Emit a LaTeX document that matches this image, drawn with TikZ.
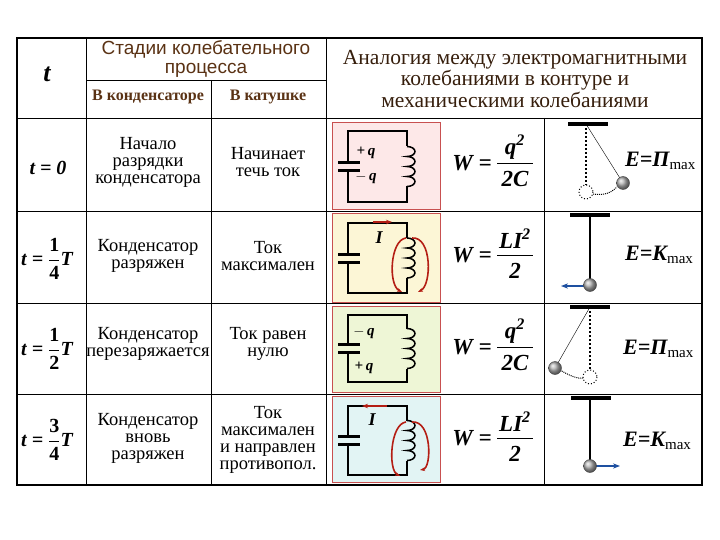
\documentclass[tikz,border=0pt]{standalone}
\usepackage{fontspec}
\setmainfont{Liberation Serif}
\newfontfamily\hsans{Liberation Sans}
\usetikzlibrary{arrows.meta}
\definecolor{brn}{RGB}{90,50,20}
\definecolor{rbox}{RGB}{200,80,80}
\definecolor{pnk}{RGB}{253,232,232}
\definecolor{yel}{RGB}{252,246,214}
\definecolor{grn}{RGB}{238,246,214}
\definecolor{cya}{RGB}{226,244,244}
\definecolor{flux}{RGB}{180,30,20}
\definecolor{arr}{RGB}{30,80,160}
\tikzset{
 grid/.style={line width=0.8pt},
 frame/.style={line width=1.6pt},
 txt/.style={align=center,font=\fontsize{18.5}{17}\selectfont,inner sep=0pt},
 sub/.style={font=\fontsize{16}{16}\selectfont\bfseries,text=brn,inner sep=0pt},
 tval/.style={font=\fontsize{20}{20}\selectfont\bfseries\itshape,inner sep=0pt},
 wire/.style={line width=1.5pt},
 plate/.style={line width=3pt},
 lbl/.style={font=\fontsize{15}{15}\selectfont\bfseries\itshape,inner sep=0pt},
 fm/.style={font=\fontsize{23}{23}\selectfont\bfseries\itshape,inner sep=0pt},
 en/.style={font=\fontsize{22}{22}\selectfont\bfseries\itshape,inner sep=0pt,anchor=west},
 ball/.style={ball color=gray!60,draw=gray!50!black,thin},
 bar/.style={line width=4pt},
 fluxarr/.style={flux,line width=1.6pt,-{Stealth[length=5pt]}},
 vel/.style={arr,line width=2.5pt,-{Stealth[length=7pt]}}
}
\newcommand{\mycoil}[2]{%
 \pgfmathsetmacro{\hh}{(#2-#1)/4}
 \draw[wire] (407,#1) foreach \k in {0,1,2,3}{ arc[start angle=90,end angle=-90,x radius=8pt,y radius=\hh/2*1pt] };
}
\newcommand{\fr}[2]{$\displaystyle\frac{\mathbf{#1}}{\mathbf{#2}}$}
\newcommand{\mx}{\textsubscript{\normalfont\mdseries\upshape\fontsize{15}{15}\selectfont max}}
\begin{document}
\begin{tikzpicture}[x=1pt,y=-1pt]
\useasboundingbox (0,0) rectangle (720,540);
\foreach \ya/\yb/\c in {122/209/pnk,213/302/yel,306/392/grn,396/482/cya}
 \draw[rbox,fill=\c,line width=0.8pt] (332,\ya) rectangle (440,\yb);
\draw[frame] (17,38) rectangle (702,485);
\draw[grid] (86,38) -- (86,485);
\draw[grid] (326,38) -- (326,485);
\draw[grid] (86,80) -- (326,80);
\draw[grid] (211,80) -- (211,485);
\draw[grid] (17,118) -- (702,118);
\draw[grid] (544,118) -- (544,485);
\foreach \y in {211,303,394} \draw[grid] (17,\y) -- (702,\y);
% headers
\node[font=\fontsize{26}{26}\selectfont\bfseries\itshape,inner sep=0pt] (ht) at (47,74) {t};
\node[txt,font=\hsans\fontsize{19}{19}\selectfont,text=brn] (hs) at (206,59) {Стадии колебательного\\процесса};
\node[sub] (hc) at (148,97) {В конденсаторе};
\node[sub] (hk) at (268,97) {В катушке};
\node[txt,font=\fontsize{21.5}{20}\selectfont,text=brn!60!black] (ha) at (515,79) {Аналогия между электромагнитными\\колебаниями в контуре и\\механическими колебаниями};
% time column
\node[tval] (t0) at (48,168) {t = 0};
\node[tval] (t1) at (47,259) {t = \fr{1}{4}T};
\node[tval] (t2) at (47,349) {t = \fr{1}{2}T};
\node[tval] (t3) at (47,440) {t = \fr{3}{4}T};
% texts
\node[txt] (c1) at (148,162) {Начало\\разрядки\\конденсатора};
\node[txt] (k1) at (268,162) {Начинает\\течь ток};
\node[txt] (c2) at (148,256) {Конденсатор\\разряжен};
\node[txt] (k2) at (268,256) {Ток\\максимален};
\node[txt] (c3) at (148,344) {Конденсатор\\перезаряжается};
\node[txt] (k3) at (268,344) {Ток равен\\нулю};
\node[txt] (c4) at (148,438) {Конденсатор\\вновь\\разряжен};
\node[txt] (k4) at (268,440) {Ток\\максимален\\и направлен\\противопол.};
% circuits
\foreach \t/\b in {131/202,223/293,315/382,406/475}{
 \pgfmathsetmacro{\m}{(\t+\b)/2}
 \pgfmathsetmacro{\ct}{\m-20}\pgfmathsetmacro{\cb}{\m+20}
 \draw[wire] (348,\m-4) -- (348,\t) -- (407,\t) -- (407,\ct);
 \draw[wire] (348,\m+4) -- (348,\b) -- (407,\b) -- (407,\cb);
 \draw[plate] (338,\m-4) -- (360,\m-4);
 \draw[plate] (338,\m+4) -- (360,\m+4);
 \mycoil{\ct}{\cb}
}
\node[lbl] (q1a) at (366,153) {+\,q};
\node[lbl] (q1b) at (366,178) {$-$\,q};
\node[lbl] (q3a) at (364,333) {$-$\,q};
\node[lbl] (q3b) at (364,368) {+\,q};
\node[lbl,font=\fontsize{18}{18}\selectfont\bfseries\itshape] (i2) at (379,238) {I};
\node[lbl,font=\fontsize{18}{18}\selectfont\bfseries\itshape] (i4) at (372,420) {I};
\draw[flux,line width=1.5pt,-{Stealth[length=6pt]}] (373,222) -- (392,222);
\draw[flux,line width=1.5pt,-{Stealth[length=6pt]}] (387,406) -- (362,406);
\draw[fluxarr] (406,238) .. controls (390,240) and (388,285) .. (402,292);
\draw[fluxarr] (412,238) .. controls (432,236) and (432,285) .. (418,292);
\draw[fluxarr] (406,422) .. controls (390,424) and (388,470) .. (400,476);
\draw[fluxarr] (412,422) .. controls (432,420) and (432,468) .. (420,470);
% formulas
\foreach \y/\n/\d in {163/q\textsuperscript{2}/2C,255/LI\textsuperscript{2}/2,347/q\textsuperscript{2}/2C,438/LI\textsuperscript{2}/2}{
 \node[fm] at (472,\y) {W =};
 \draw[line width=0.8pt] (497,\y) -- (533,\y);
 \node[fm] at (515,\y-16) {\n};
 \node[fm] at (515,\y+16) {\d};
}
% pendulums
\draw[bar] (568,124) -- (608,124);
\draw[dotted,line width=2pt] (586,124) -- (586,185);
\draw[dotted,line width=1pt] (586,192) circle (7);
\draw[densely dotted,line width=1pt] (593,194) .. controls (605,196) and (612,192) .. (617,187);
\draw[thin] (586,124) -- (623,183);
\shade[ball] (623,183) circle (6.5);
\node[en] (e1) at (625,161) {E=П\mx};
\draw[bar] (570,215) -- (610,215);
\draw[line width=1.5pt] (590,215) -- (590,285);
\draw[vel] (584,286) -- (561,286);
\shade[ball] (590,285) circle (6.5);
\node[en] (e2) at (625,255) {E=K\mx};
\draw[bar] (570,307) -- (610,307);
\draw[dotted,line width=2pt] (590,307) -- (590,370);
\draw[dotted,line width=1pt] (590,377) circle (7);
\draw[densely dotted,line width=1pt] (560,370) .. controls (570,376) and (578,379) .. (583,378);
\draw[thin] (590,307) -- (555,368);
\shade[ball] (555,368) circle (6.5);
\node[en] (e3) at (623,349) {E=П\mx};
\draw[bar] (571,398) -- (611,398);
\draw[line width=1.5pt] (590,398) -- (590,466);
\draw[vel] (596,466) -- (620,466);
\shade[ball] (590,466) circle (6.5);
\node[en] (e4) at (623,441) {E=K\mx};
\end{tikzpicture}
\end{document}
